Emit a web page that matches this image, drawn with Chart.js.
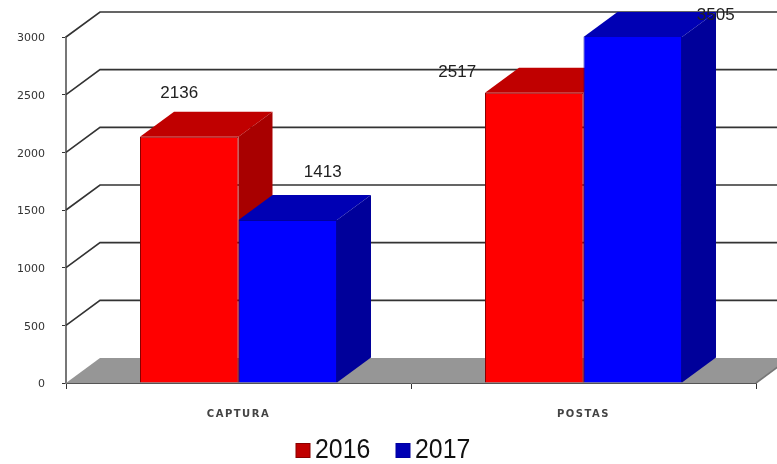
<!DOCTYPE html>
<html>
<head>
<meta charset="utf-8">
<style>
  html, body { margin: 0; padding: 0; background: #fff; }
  #wrap { width: 777px; height: 464px; overflow: hidden; }
  canvas { filter: blur(0.4px); }
</style>
<script src="https://cdn.jsdelivr.net/npm/chart.js@4/dist/chart.umd.min.js"></script>
</head>
<body>
<div id="wrap"><canvas id="chart" width="777" height="464"></canvas></div>
<script>
const categories = ['CAPTURA', 'POSTAS'];
const series2016 = [2136, 2517];
const series2017 = [1413, 3505];
const yMax = 3000;
const yStep = 500;

// depth of the fake 3D box, pixels
const DX = 34, DY = 25;

// labels were hand placed in the original, offset from the bar top centre
const labelOffsets = [
    [[-10, -43], [-77, -20]],
    [[35, -48], [83, -22]]
];

const faces = [
    { top: '#c00000', side: '#a80000' },
    { top: '#0000b4', side: '#00009a' }
];

function poly(ctx, pts, fill) {
    ctx.beginPath();
    pts.forEach((p, i) => i ? ctx.lineTo(p[0], p[1]) : ctx.moveTo(p[0], p[1]));
    ctx.closePath();
    ctx.fillStyle = fill;
    ctx.fill();
}

const box3d = {
    id: 'box3d',
    beforeDatasetsDraw(chart) {
        const ctx = chart.ctx;
        const area = chart.chartArea;
        const yScale = chart.scales.y;
        const W = area.right + DX;

        ctx.save();
        // floor
        poly(ctx, [[area.left, area.bottom], [area.left + DX, area.bottom - DY],
                   [W, area.bottom - DY], [area.right, area.bottom]], '#969696');
        // wall lines, none along the back of the floor
        ctx.strokeStyle = '#333';
        ctx.lineWidth = 1.6;
        yScale.ticks.forEach(t => {
            if (t.value === 0) return;
            const y = yScale.getPixelForValue(t.value);
            ctx.beginPath();
            ctx.moveTo(area.left, y);
            ctx.lineTo(area.left + DX, y - DY);
            ctx.lineTo(W, y - DY);
            ctx.stroke();
        });
        // diagonal at the right end of the floor
        ctx.strokeStyle = '#777';
        ctx.beginPath();
        ctx.moveTo(area.right, area.bottom);
        ctx.lineTo(W, area.bottom - DY);
        ctx.stroke();

        // sides and tops, 2016 first so 2017 sits in front of it
        categories.forEach((c, i) => {
            [0, 1].forEach(d => {
                const bar = chart.getDatasetMeta(d).data[i];
                const l = bar.x - bar.width / 2;
                const r = bar.x + bar.width / 2;
                const top = Math.max(bar.y, area.top);
                poly(ctx, [[l, top], [l + DX, top - DY], [r + DX, top - DY], [r, top]], faces[d].top);
                poly(ctx, [[r, top], [r + DX, top - DY], [r + DX, bar.base - DY], [r, bar.base]], faces[d].side);
            });
        });
        ctx.restore();
    },
    afterDatasetsDraw(chart) {
        const ctx = chart.ctx;
        const area = chart.chartArea;
        ctx.save();
        ctx.font = '17px "Liberation Sans"';
        ctx.fillStyle = '#222';
        ctx.textAlign = 'center';
        ctx.textBaseline = 'middle';
        chart.data.datasets.forEach((ds, d) => {
            ds.data.forEach((v, i) => {
                const bar = chart.getDatasetMeta(d).data[i];
                const off = labelOffsets[d][i];
                ctx.fillText(v, bar.x + off[0], Math.max(bar.y, area.top) + off[1]);
            });
        });
        ctx.restore();
        // only the category labels are drawn after this point
        ctx.letterSpacing = '1.5px';
    },
    afterDraw(chart) {
        const ctx = chart.ctx;
        ctx.letterSpacing = '0px';

        // legend, the gap between box and text is too tight for the built in one
        const legendX = [296, 396];
        ctx.save();
        ctx.textBaseline = 'middle';
        chart.data.datasets.forEach((ds, d) => {
            ctx.fillStyle = faces[d].top;
            ctx.strokeStyle = ds.borderColor;
            ctx.lineWidth = 1;
            ctx.fillRect(legendX[d], 443.5, 14, 14);
            ctx.strokeRect(legendX[d], 443.5, 14, 14);
            ctx.save();
            ctx.translate(legendX[d] + 19, 451);
            ctx.scale(0.92, 1);
            ctx.font = '27px "Liberation Sans"';
            ctx.fillStyle = '#111';
            ctx.fillText(ds.label, 0, 0);
            ctx.restore();
        });
        ctx.restore();
    }
};

new Chart(document.getElementById('chart').getContext('2d'), {
    type: 'bar',
    data: {
        labels: categories,
        datasets: [
            { label: '2016', data: series2016, backgroundColor: '#ff0000', borderColor: '#8a0000', borderWidth: 1 },
            { label: '2017', data: series2017, backgroundColor: '#0000ff', borderColor: '#0000a0', borderWidth: 1 }
        ]
    },
    options: {
        responsive: false,
        animation: false,
        layout: { autoPadding: false, padding: { top: 37, right: 21, left: 0, bottom: 0 } },
        datasets: { bar: { barPercentage: 1, categoryPercentage: 0.571 } },
        scales: {
            x: {
                afterFit(scale) { scale.height = 81; },
                grid: { drawOnChartArea: false, tickLength: 6, color: '#333' },
                border: { color: '#555', width: 1 },
                ticks: {
                    z: 1,
                    padding: 19,
                    color: '#444',
                    maxRotation: 0,
                    font: { family: 'DejaVu Sans', size: 10, weight: 'bold' }
                }
            },
            y: {
                min: 0,
                max: yMax,
                afterFit(scale) { scale.width = 66; },
                grid: { drawOnChartArea: false, tickLength: 4, color: '#333' },
                border: { color: '#777', width: 2 },
                ticks: {
                    stepSize: yStep,
                    padding: 17,
                    labelOffset: 1.5,
                    color: '#333',
                    font: { family: 'DejaVu Sans', size: 11 },
                    callback: v => String(v)
                }
            }
        },
        plugins: {
            tooltip: { enabled: false },
            legend: { display: false }
        }
    },
    plugins: [box3d]
});
</script>
</body>
</html>
